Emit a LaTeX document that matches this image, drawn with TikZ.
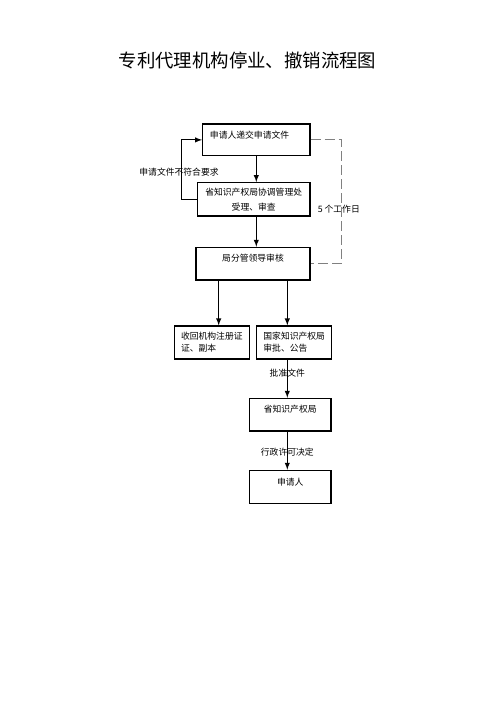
\documentclass[tikz,border=0pt]{standalone}
\usepackage{fontspec}
\newfontfamily\cjk{Noto Sans CJK SC}
\usetikzlibrary{calc}

\begin{document}
\begin{tikzpicture}[x=0.75pt, y=-0.75pt, >=latex,
    box/.style={rectangle, draw=black, line width=0.9pt, inner sep=0pt,
    font=\cjk\fontsize{6.6pt}{8.8pt}\selectfont, align=center},
    oneline/.style={text height=5.6pt, text depth=8.3pt},
    txt/.style={inner sep=0pt, font=\cjk\fontsize{6.6pt}{8.8pt}\selectfont},
    arr/.style={->, line width=0.8pt}]
    \useasboundingbox (0, 0) rectangle (500, 707);

    \node (Title) at (247.5, 60) [inner sep=0pt, font=\cjk\fontsize{13.8pt}{16pt}\selectfont] {专利代理机构停业、撤销流程图};

    \node (B1) at (256.3, 139.9) [box, oneline, minimum width=80.5pt, minimum height=23.8pt,
    text width=69.5pt, align=left] {申请人递交申请文件};
	\node (B2) at (253.7, 199.3) [box, minimum width=84.5pt, minimum height=25pt] {省知识产权局协调管理处\\[2.2pt]受理、审查};
	\node (B3) at (253, 263.7)   [box, oneline, minimum width=85.5pt, minimum height=24.5pt] {局分管领导审核};
	\node (B4) at (211.8, 342.5) [box, minimum width=56.3pt, minimum height=24.75pt, align=left] {收回机构注册证\\证、副本};
	\node (B5) at (294.2, 342.5) [box, minimum width=56.3pt, minimum height=24.75pt, align=left] {国家知识产权局\\审批、公告};
	\node (B6) at (290.2, 414.7) [box, oneline, minimum width=61.3pt, minimum height=24.5pt] {省知识产权局};
	\node (B7) at (290.2, 486.8) [box, oneline, minimum width=61.3pt, minimum height=24.75pt] {申请人};

	\node (NoPass) at (179, 171.7) [txt] {申请文件不符合要求};
	\node (Days) at (338.8, 209.3) [txt] {5 个工作日};

	\coordinate (L4) at (218.7, 300);
	\coordinate (L5) at (287.3, 300);

	\draw [arr] (B1.south) -- (B1.south |- B2.north);
	\draw [arr] (B1.south |- B2.south) -- (B1.south |- B3.north);
	\draw [arr] (B2.west) -- ++(-15.6, 0) |- (B1.west);
	\draw [gray, line width=0.8pt, dash pattern=on 7.5pt off 3pt] (B1.east) -- ++(30.7, 0) |- (B3.east);

	\draw [arr] (B3.south -| L4) -- (B4.north -| L4);
	\draw [arr] (B3.south -| L5) -- (B5.north -| L5);
	\draw [arr] (B5.south -| L5) -- (B6.north -| L5) node [txt, pos=.36] {批准文件};
	\draw [arr] (B6.south -| L5) -- (B7.north -| L5) node [txt, pos=.54] {行政许可决定};
\end{tikzpicture}
\end{document}
